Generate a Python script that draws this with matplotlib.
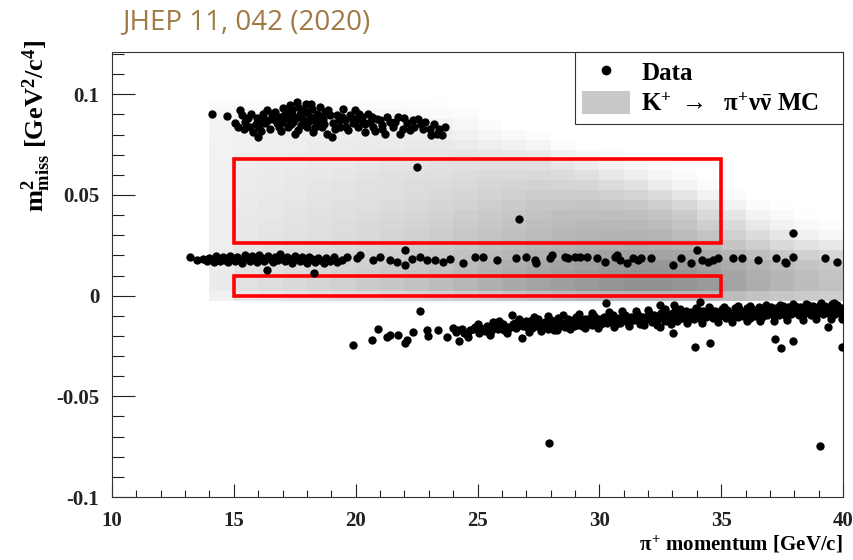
import numpy as np
import matplotlib
matplotlib.use("Agg")
import matplotlib.pyplot as plt
from matplotlib.colors import LinearSegmentedColormap
from matplotlib.patches import Rectangle, Patch
from matplotlib.lines import Line2D
from matplotlib.ticker import MultipleLocator, FuncFormatter

# ROOT style: Times bold everywhere
plt.rcParams['font.family'] = ['Liberation Serif', 'DejaVu Serif']
plt.rcParams['font.weight'] = 'bold'
plt.rcParams['mathtext.fontset'] = 'custom'
plt.rcParams['mathtext.rm'] = 'Liberation Serif:bold'
plt.rcParams['mathtext.it'] = 'Liberation Serif:bold'
plt.rcParams['mathtext.bf'] = 'Liberation Serif:bold'
plt.rcParams['axes.unicode_minus'] = False

# K+ -> pi+ nu nubar MC, 1 GeV/c columns from 14 to 40,
# each column bottom-to-top in m2miss bins of 0.005 (centres 0.000 ... 0.095)
mc_x_edges = np.arange(14, 41, 1)
mc_y_edges = np.arange(-0.0025, 0.1, 0.005)
mc_columns = [
	[10,14,14,13,13,12,12,11,11,11,10,10,10,10,9,9,8,8,6,3],
	[15,20,20,19,18,17,16,15,15,14,14,13,13,12,11,10,10,9,7,3],
	[17,23,22,21,20,19,18,17,16,16,15,14,14,13,12,11,11,10,7,3],
	[19,26,25,24,23,21,20,19,18,17,16,16,15,14,13,12,12,11,8,3],
	[21,29,28,27,25,23,22,21,20,19,18,17,16,15,14,13,12,11,8,3],
	[23,32,31,29,27,25,24,23,22,21,19,18,17,16,14,13,12,11,7,3],
	[25,35,34,32,30,28,26,25,24,22,21,20,19,17,15,14,13,11,7,3],
	[27,38,37,35,33,31,29,27,26,24,22,21,20,18,16,14,13,10,6,2],
	[29,42,41,38,36,33,31,29,28,26,24,23,21,19,17,15,13,10,5,2],
	[31,45,44,41,39,36,34,32,30,28,26,24,22,20,17,15,12,9,4,1],
	[34,49,48,45,42,39,37,35,33,30,28,26,24,21,18,14,10,6,3,0],
	[37,54,53,50,46,43,40,38,36,33,30,28,25,22,17,12,6,2,0,0],
	[40,58,57,54,50,46,43,41,38,35,32,29,26,22,16,10,4,0,0,0],
	[43,62,61,58,54,50,46,44,41,38,34,30,26,21,14,7,2,0,0,0],
	[46,66,65,62,57,52,48,46,43,39,34,29,24,17,8,2,0,0,0,0],
	[48,69,68,65,60,54,50,47,44,40,34,28,21,13,5,1,0,0,0,0],
	[50,72,71,68,62,55,51,48,44,39,32,24,16,8,2,0,0,0,0,0],
	[51,74,73,70,63,56,51,47,43,37,29,20,11,5,0,0,0,0,0,0],
	[51,74,73,70,62,55,50,45,40,33,24,14,6,2,0,0,0,0,0,0],
	[50,72,71,67,60,52,46,41,35,27,17,8,3,0,0,0,0,0,0,0],
	[48,68,67,63,56,47,40,33,26,18,9,3,0,0,0,0,0,0,0,0],
	[45,62,61,57,50,40,32,25,17,9,3,0,0,0,0,0,0,0,0,0],
	[41,56,55,51,43,33,24,16,8,3,0,0,0,0,0,0,0,0,0,0],
	[38,50,49,45,37,26,17,9,4,1,0,0,0,0,0,0,0,0,0,0],
	[35,45,44,40,32,20,10,4,1,0,0,0,0,0,0,0,0,0,0,0],
	[33,42,41,37,28,15,6,2,0,0,0,0,0,0,0,0,0,0,0,0],
]

# signal regions: (p_min, p_max, m2_min, m2_max)
signal_regions = [(15, 35, 0.026, 0.068), (15, 35, 0.0, 0.01)]

# data, (momentum [GeV/c], m2miss [GeV2/c4])
# K+ -> pi+ pi0 region
upper_cluster = [
	(14.09,0.0904),(14.70,0.0891),(15.25,0.0921),(15.32,0.0896),(15.05,0.0855),(15.18,0.0838),
	(15.46,0.0863),(15.66,0.0838),(15.80,0.0813),(16.00,0.0788),(16.14,0.0871),(16.35,0.0921),
	(16.28,0.0855),(16.48,0.0830),(16.62,0.0879),(16.76,0.0855),(16.89,0.0888),(17.03,0.0863),
	(17.17,0.0921),(17.24,0.0838),(17.30,0.0945),(17.37,0.0896),(17.44,0.0863),(17.58,0.0962),
	(17.65,0.0937),(17.71,0.0904),(17.51,0.0805),(17.65,0.0821),(17.85,0.0921),(17.92,0.0863),
	(17.99,0.0838),(18.12,0.0888),(18.19,0.0929),(18.26,0.0813),(18.40,0.0904),(18.47,0.0863),
	(18.53,0.0937),(18.60,0.0838),(18.67,0.0879),(18.81,0.0805),(18.88,0.0921),(19.01,0.0788),
	(19.08,0.0855),(19.22,0.0896),(19.36,0.0838),(19.49,0.0929),(19.56,0.0871),(19.70,0.0821),
	(19.77,0.0896),(19.90,0.0855),(19.97,0.0921),(20.11,0.0838),(20.24,0.0888),(20.38,0.0813),
	(20.52,0.0904),(20.59,0.0863),(20.72,0.0838),(20.86,0.0879),(21.07,0.0846),(21.20,0.0805),
	(21.27,0.0888),(21.54,0.0838),(21.75,0.0888),(21.82,0.0805),(22.09,0.0855),(22.23,0.0821),
	(22.36,0.0871),(22.57,0.0879),(22.77,0.0830),(23.05,0.0830),(23.32,0.0805),(23.53,0.0797),
	(23.66,0.0838),(15.60,0.0880),(15.90,0.0850),(16.20,0.0900),(16.40,0.0870),(16.95,0.0820),
	(17.10,0.0900),(17.40,0.0920),(17.80,0.0880),(18.00,0.0910),(18.30,0.0870),(18.70,0.0850),
	(18.95,0.0895),(19.30,0.0870),(19.60,0.0840),(20.00,0.0870),(20.40,0.0850),(20.80,0.0820),
	(21.40,0.0860),(22.00,0.0880),(22.70,0.0850),(23.20,0.0850),(17.95,0.0950),(17.20,0.0880),
	(16.70,0.0910),(15.40,0.0830),(15.70,0.0900),(15.95,0.0880),(16.10,0.0820),(16.55,0.0900),
	(16.85,0.0840),(17.00,0.0930),(17.35,0.0850),(17.55,0.0880),(17.75,0.0845),(18.05,0.0860),
	(18.35,0.0840),(18.50,0.0890),(18.75,0.0910),(19.15,0.0830),(19.45,0.0885),(19.85,0.0880),
	(20.15,0.0900),(20.30,0.0860),(20.65,0.0885),(21.00,0.0870),(21.10,0.0830),(21.60,0.0860),
	(21.95,0.0830),(22.40,0.0840),(22.85,0.0860),(23.40,0.0830),(23.10,0.0800),(16.05,0.0840),
	(18.15,0.0950),
]

# K+ -> mu+ nu region (around m2 = 0.018)
middle_band = [
	(13.20,0.0193),(13.47,0.0176),(13.75,0.0180),(13.90,0.0170),(14.00,0.0188),(14.10,0.0175),
	(14.20,0.0165),(14.25,0.0195),(14.35,0.0180),(14.45,0.0170),(14.55,0.0190),(14.65,0.0178),
	(14.75,0.0165),(14.85,0.0198),(14.95,0.0183),(15.05,0.0170),(15.15,0.0192),(15.25,0.0178),
	(15.35,0.0163),(15.45,0.0200),(15.55,0.0185),(15.65,0.0172),(15.75,0.0195),(15.85,0.0180),
	(15.95,0.0165),(16.05,0.0203),(16.15,0.0188),(16.25,0.0173),(16.35,0.0127),(16.40,0.0195),
	(16.50,0.0180),(16.60,0.0168),(16.70,0.0192),(16.80,0.0178),(16.90,0.0205),(17.00,0.0185),
	(17.10,0.0170),(17.20,0.0193),(17.30,0.0180),(17.40,0.0162),(17.50,0.0197),(17.60,0.0183),
	(17.70,0.0170),(17.80,0.0190),(17.90,0.0176),(18.00,0.0163),(18.10,0.0193),(18.20,0.0180),
	(18.30,0.0112),(18.35,0.0168),(18.45,0.0188),(18.55,0.0175),(18.70,0.0160),(18.80,0.0185),
	(18.95,0.0172),(19.10,0.0190),(19.25,0.0165),
	(19.42,0.0176),(19.63,0.0193),(20.04,0.0185),(20.18,0.0204),(20.72,0.0176),(21.00,0.0193),
	(21.41,0.0176),(21.68,0.0168),(22.02,0.0226),(22.02,0.0151),(22.30,0.0180),(22.64,0.0193),
	(22.91,0.0176),(23.25,0.0176),(23.60,0.0168),(23.87,0.0180),(24.42,0.0163),(24.90,0.0193),
	(25.24,0.0193),(25.79,0.0176),(26.58,0.0185),(27.01,0.0193),(27.36,0.0176),(27.42,0.0160),
	(27.97,0.0185),(28.04,0.0201),(28.59,0.0193),(28.72,0.0185),(29.00,0.0193),(29.20,0.0193),
	(29.50,0.0193),(29.89,0.0185),(30.23,0.0168),(30.64,0.0193),(30.71,0.0201),(30.84,0.0176),
	(31.12,0.0160),(31.39,0.0185),(31.60,0.0176),(31.73,0.0185),(32.14,0.0185),(33.03,0.0151),
	(33.37,0.0185),(33.78,0.0160),(33.99,0.0226),(34.20,0.0176),(34.47,0.0168),(34.67,0.0176),
	(34.88,0.0185),(35.49,0.0185),(35.84,0.0185),(36.52,0.0176),(37.27,0.0185),(37.61,0.0168),
	(37.68,0.0160),(37.96,0.0193),(39.26,0.0185),(39.74,0.0168),
]

# K+ -> pi+ pi+ pi- region (negative m2, rising with momentum)
lower_band = [
	(19.90,-0.0246),(20.68,-0.0221),(20.93,-0.0168),(21.27,-0.0204),(21.41,-0.0196),(21.75,-0.0196),
	(22.09,-0.0221),(22.02,-0.0237),(22.37,-0.0180),(22.91,-0.0171),(22.98,-0.0201),(23.39,-0.0171),
	(23.73,-0.0204),(24.00,-0.0163),
	(24.10,-0.0180),(24.35,-0.0165),(24.55,-0.0192),(24.70,-0.0172),(24.90,-0.0158),(25.05,-0.0185),
	(25.20,-0.0168),(25.40,-0.0150),(25.55,-0.0178),(25.65,-0.0131),(25.75,-0.0160),(25.95,-0.0145),
	(26.10,-0.0172),(26.25,-0.0155),(26.40,-0.0097),(26.45,-0.0140),(26.60,-0.0162),(26.75,-0.0148),
	(26.81,-0.0209),(26.90,-0.0135),(27.05,-0.0158),
	(27.15,-0.0125),(27.25,-0.0160),(27.38,-0.0138),(27.50,-0.0118),(27.62,-0.0152),(27.75,-0.0130),
	(27.88,-0.0165),(28.00,-0.0120),(28.12,-0.0145),(28.25,-0.0171),(28.30,-0.0112),(28.45,-0.0138),
	(28.58,-0.0155),(28.70,-0.0118),(28.82,-0.0130),(28.95,-0.0150),(29.05,-0.0105),(29.18,-0.0135),
	(29.30,-0.0152),(29.42,-0.0115),(29.55,-0.0128),(29.68,-0.0145),(29.80,-0.0100),(29.92,-0.0125),
	(30.05,-0.0140),(30.18,-0.0108),(30.30,-0.0135),(30.42,-0.0118),(30.55,-0.0098),(30.68,-0.0142),
	(30.80,-0.0112),(30.92,-0.0128),(31.05,-0.0095),(31.18,-0.0135),(31.30,-0.0108),(31.42,-0.0122),
	(31.55,-0.0090),(31.68,-0.0140),(31.80,-0.0105),(31.92,-0.0118),(32.05,-0.0088),(32.18,-0.0132),
	(32.30,-0.0100),(32.42,-0.0118),(32.49,-0.0155),(32.55,-0.0085),(32.68,-0.0125),(32.80,-0.0098),
	(32.92,-0.0112),(33.05,-0.0080),(33.18,-0.0128),(33.30,-0.0095),(33.42,-0.0110),(33.55,-0.0075),
	(33.68,-0.0118),(33.80,-0.0090),(33.92,-0.0105),(34.05,-0.0070),(34.18,-0.0115),(34.30,-0.0085),
	(34.42,-0.0100),(34.55,-0.0068),(34.68,-0.0112),(34.80,-0.0082),(34.92,-0.0098),(35.05,-0.0065),
	(35.18,-0.0110),(35.30,-0.0080),(35.42,-0.0095),(35.55,-0.0062),(35.68,-0.0108),(35.80,-0.0078),
	(35.92,-0.0092),(36.05,-0.0060),(36.18,-0.0112),(36.30,-0.0075),(36.42,-0.0090),(36.55,-0.0058),
	(36.68,-0.0105),(36.80,-0.0072),(36.92,-0.0088),(37.05,-0.0055),(37.18,-0.0102),(37.30,-0.0070),
	(37.42,-0.0085),(37.55,-0.0052),(37.68,-0.0100),(37.80,-0.0068),(37.92,-0.0082),(38.05,-0.0050),
	(38.18,-0.0098),(38.30,-0.0065),(38.42,-0.0080),(38.55,-0.0048),(38.68,-0.0095),(38.80,-0.0062),
	(38.92,-0.0078),(39.05,-0.0045),(39.18,-0.0092),(39.30,-0.0060),(39.42,-0.0075),(39.55,-0.0042),
	(39.68,-0.0090),(39.80,-0.0058),(39.90,-0.0072),
	(24.20,-0.0170),(24.45,-0.0185),(24.80,-0.0165),(25.10,-0.0160),(25.30,-0.0178),(25.60,-0.0150),
	(25.85,-0.0168),(26.05,-0.0140),(26.30,-0.0163),(26.55,-0.0135),(26.85,-0.0150),(27.00,-0.0128),
	(27.20,-0.0145),(27.45,-0.0150),(27.70,-0.0140),(27.95,-0.0150),(28.05,-0.0135),(28.20,-0.0125),
	(28.40,-0.0150),(28.65,-0.0135),(28.90,-0.0120),(29.10,-0.0145),(29.25,-0.0120),(29.48,-0.0138),
	(29.62,-0.0110),(29.85,-0.0135),(30.00,-0.0115),(30.12,-0.0128),(30.35,-0.0105),(30.50,-0.0130),
	(30.62,-0.0115),(30.85,-0.0135),(31.00,-0.0118),(31.12,-0.0105),(31.25,-0.0125),(31.48,-0.0112),
	(31.62,-0.0100),(31.75,-0.0128),(31.98,-0.0108),(32.10,-0.0120),(32.25,-0.0095),(32.38,-0.0110),
	(32.62,-0.0105),(32.75,-0.0118),(32.88,-0.0090),(33.00,-0.0120),(33.12,-0.0100),(33.25,-0.0115),
	(33.48,-0.0088),(33.62,-0.0105),(33.75,-0.0080),(33.88,-0.0115),(34.00,-0.0095),(34.12,-0.0108),
	(34.25,-0.0078),(34.38,-0.0105),(34.62,-0.0095),(34.75,-0.0075),(34.88,-0.0108),(35.00,-0.0088),
	(35.12,-0.0100),(35.25,-0.0072),(35.38,-0.0105),(35.62,-0.0090),(35.75,-0.0068),(35.88,-0.0102),
	(36.00,-0.0085),(36.12,-0.0095),(36.25,-0.0065),(36.38,-0.0100),(36.62,-0.0085),(36.75,-0.0062),
	(36.88,-0.0098),(37.00,-0.0080),(37.12,-0.0092),(37.25,-0.0060),(37.38,-0.0095),(37.62,-0.0080),
	(37.75,-0.0058),(37.88,-0.0092),(38.00,-0.0075),(38.12,-0.0088),(38.25,-0.0055),(38.38,-0.0092),
	(38.62,-0.0075),(38.75,-0.0052),(38.88,-0.0090),(39.00,-0.0070),(39.12,-0.0085),(39.25,-0.0050),
	(39.38,-0.0088),(39.62,-0.0070),(39.75,-0.0048),(39.88,-0.0085),(39.97,-0.0062),
	# ragged edges of the band
	(27.30,-0.0105),(27.90,-0.0100),(28.50,-0.0098),(29.15,-0.0090),(29.70,-0.0088),(30.40,-0.0082),
	(30.95,-0.0078),(31.50,-0.0076),(32.00,-0.0072),(32.70,-0.0068),(33.30,-0.0066),(33.95,-0.0060),
	(34.50,-0.0058),(35.10,-0.0056),(35.70,-0.0052),(36.20,-0.0050),(36.85,-0.0048),(37.40,-0.0046),
	(37.95,-0.0042),(38.50,-0.0040),(39.10,-0.0038),(39.65,-0.0036),
	(27.10,-0.0182),(27.60,-0.0175),(28.15,-0.0172),(28.80,-0.0168),(29.40,-0.0162),(29.95,-0.0160),
	(30.60,-0.0155),(31.20,-0.0152),(31.85,-0.0148),(32.35,-0.0145),(32.95,-0.0142),(33.60,-0.0138),
	(34.20,-0.0135),(34.85,-0.0132),(35.45,-0.0130),(36.05,-0.0128),(36.60,-0.0126),(37.15,-0.0125),
	(37.70,-0.0122),(38.35,-0.0120),(38.90,-0.0118),(39.50,-0.0116),(39.95,-0.0115),
	(24.60,-0.0205),(25.00,-0.0140),(25.50,-0.0195),(25.90,-0.0125),(26.20,-0.0188),(26.70,-0.0118),
]

# isolated events
outliers = [
	(22.50,0.0639),(26.71,0.0383),(37.96,0.0312),(27.93,-0.0732),(39.05,-0.0747),(22.64,-0.0075),
	(24.25,-0.0224),(33.92,-0.0257),(34.54,-0.0237),(37.20,-0.0216),(37.45,-0.0259),(37.96,-0.0226),
	(39.37,-0.0158),(39.94,-0.0254),(30.27,-0.0039),(32.49,-0.0044),(33.06,-0.0044),(34.13,-0.0031),
	(33.03,-0.0188),
]

data = np.array(upper_cluster + middle_band + lower_band + outliers)

fig = plt.figure(figsize=(8.54, 5.6), dpi=100)
ax = fig.add_axes([112/854, 63/560, 731/854, 445/560])

mc_cmap = LinearSegmentedColormap.from_list('mc', [(1, 1, 1), (0.42, 0.42, 0.42)])
ax.pcolormesh(mc_x_edges, mc_y_edges, np.array(mc_columns).T, cmap=mc_cmap,
	vmin=0, vmax=100, shading='flat', zorder=1)

for p0, p1, m0, m1 in signal_regions:
	ax.add_patch(Rectangle((p0, m0), p1 - p0, m1 - m0, fill=False,
		edgecolor='#ff0000', linewidth=2.6, zorder=3))

ax.scatter(data[:, 0], data[:, 1], s=36, c='black', linewidths=0, zorder=4)

ax.set_xlim(10, 40)
ax.set_ylim(-0.1, 0.121)

ax.xaxis.set_major_locator(MultipleLocator(5))
ax.xaxis.set_minor_locator(MultipleLocator(1))
ax.yaxis.set_major_locator(MultipleLocator(0.05))
ax.yaxis.set_minor_locator(MultipleLocator(0.01))
ax.yaxis.set_major_formatter(FuncFormatter(lambda v, p: '0' if abs(v) < 1e-9 else '%g' % round(v, 3)))

ax.tick_params(which='both', direction='in', top=False, right=False, width=0.8, colors='#222222')
ax.tick_params(axis='x', which='major', length=9.4, pad=10, labelsize=15)
ax.tick_params(axis='x', which='minor', length=4.7)
ax.tick_params(axis='y', which='major', length=16.5, pad=9, labelsize=15)
ax.tick_params(axis='y', which='minor', length=8.3)
for s in ax.spines.values():
	s.set_linewidth(0.8)
	s.set_color('#333333')

fig.text(843/854, 1 - 545/560, r'$\pi^{+}$ momentum [GeV/c]', ha='right', va='center', fontsize=15)
fig.text(36/854, 1 - 40/560, r'$m^{2}_{miss}$ [GeV$^{2}$/c$^{4}$]', ha='center', va='top',
	rotation=90, fontsize=19)

handles = [Line2D([], [], linestyle='none', marker='o', markersize=6, color='black'),
	Patch(facecolor='#c8c8c8', edgecolor='none')]
labels = ['Data', r'K$^{+}$ $\rightarrow$  $\pi^{+}\nu\bar{\nu}$ MC']
leg = ax.legend(handles, labels, loc='upper left', bbox_to_anchor=(463/731, 0, 268/731, 1.0),
	mode='expand', borderaxespad=0, fontsize=18,
	handlelength=1.9, handleheight=1.05, handletextpad=0.45, borderpad=0.3,
	labelspacing=0.25, fancybox=False, framealpha=1, edgecolor='#333333')
leg.get_frame().set_linewidth(0.8)
leg.set_zorder(5)

fig.text(122/854, 1 - 29/560, 'JHEP 11, 042 (2020)', ha='left', va='baseline',
	fontsize=20, family='Open Sans', fontweight='normal', color='#a07a45')

fig.savefig('out.png', dpi=100, facecolor='white')
